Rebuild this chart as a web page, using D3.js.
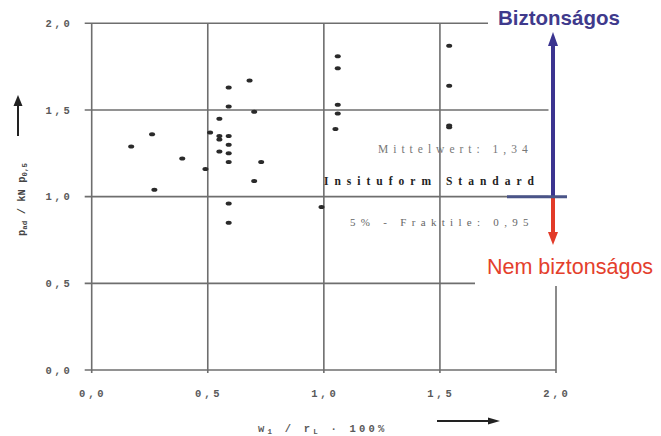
<!DOCTYPE html>
<html>
<head>
<meta charset="utf-8">
<script src="https://cdn.jsdelivr.net/npm/d3@7"></script>
<style>
  html, body { margin: 0; padding: 0; background: #fff; }
  svg { display: block; }
</style>
</head>
<body>
<svg id="chart" width="661" height="436"></svg>
<script>
// Measured ratios: relative deflection (x) vs. load ratio (y)
const deflection = [0.17, 0.26, 0.27, 0.39, 0.49, 0.51, 0.55, 0.55, 0.55, 0.55,
                    0.59, 0.59, 0.59, 0.59, 0.59, 0.59, 0.59, 0.59,
                    0.68, 0.70, 0.70, 0.73, 0.99,
                    1.06, 1.06, 1.06, 1.06, 1.05,
                    1.54, 1.54, 1.54, 1.54];
const loadRatio  = [1.29, 1.36, 1.04, 1.22, 1.16, 1.37, 1.45, 1.35, 1.33, 1.26,
                    1.63, 1.52, 1.35, 1.30, 1.25, 1.20, 0.96, 0.85,
                    1.67, 1.49, 1.09, 1.20, 0.94,
                    1.81, 1.74, 1.53, 1.48, 1.39,
                    1.87, 1.64, 1.41, 1.40];

const xTicks = [0, 0.5, 1.0, 1.5, 2.0];
const xTickLabels = ["0,0", "0,5", "1,0", "1,5", "2,0"];
const yTicks = [0, 0.5, 1.0, 1.5, 2.0];
const yTickLabels = ["0,0", "0,5", "1,0", "1,5", "2,0"];

const meanLabel = "Mittelwert: 1,34";
const standardLabel = "Insituform Standard";
const fractileLabel = "5% - Fraktile: 0,95";
const safeLabel = "Biztonságos";
const unsafeLabel = "Nem biztonságos";
const standardLevel = 1.0;

const svg = d3.select("#chart");
const x = d3.scaleLinear().domain([0, 2]).range([91.7, 556]);
const y = d3.scaleLinear().domain([0, 2]).range([370, 23.3]);

const gridColor = "#6e6e6e";
const tickFont = "'Liberation Mono', 'DejaVu Sans Mono', monospace";

// grid lines (horizontal extend slightly left of the frame, vertical slightly below);
// the right frame edge is only drawn below the "unsafe" label
svg.append("g").selectAll("line").data(yTicks).join("line")
  .attr("x1", x(0) - 7).attr("x2", x(2))
  .attr("y1", d => y(d)).attr("y2", d => y(d))
  .attr("stroke", gridColor).attr("stroke-width", 1.6);
svg.append("g").selectAll("line").data(xTicks).join("line")
  .attr("x1", d => x(d)).attr("x2", d => x(d))
  .attr("y1", d => d === 2 ? 286 : y(2)).attr("y2", y(0) + 3)
  .attr("stroke", gridColor).attr("stroke-width", 1.6);

// tick labels
svg.append("g").selectAll("text").data(yTicks).join("text")
  .attr("x", x(0) - 19).attr("y", d => y(d)).attr("dy", "0.35em")
  .attr("text-anchor", "end")
  .attr("font-family", tickFont).attr("font-size", 10.5).attr("font-weight", "bold")
  .attr("letter-spacing", 2.8).attr("fill", "#5a5a5a")
  .text((d, i) => yTickLabels[i]);
svg.append("g").selectAll("text").data(xTicks).join("text")
  .attr("x", d => x(d) + 1).attr("y", y(0) + 27)
  .attr("text-anchor", "middle")
  .attr("font-family", tickFont).attr("font-size", 10.5).attr("font-weight", "bold")
  .attr("letter-spacing", 2.8).attr("fill", "#5a5a5a")
  .text((d, i) => xTickLabels[i]);

// data points
svg.append("g").selectAll("ellipse").data(deflection).join("ellipse")
  .attr("cx", d => x(d)).attr("cy", (d, i) => y(loadRatio[i]))
  .attr("rx", 3).attr("ry", 2)
  .attr("fill", "#2a2a2a");

// statistics annotations
const serif = "'Liberation Serif', 'DejaVu Serif', serif";
svg.append("text").attr("x", 378).attr("y", 153)
  .attr("font-family", serif).attr("font-size", 11.5).attr("letter-spacing", 5)
  .attr("fill", "#777").text(meanLabel);
svg.append("text").attr("x", 324).attr("y", 185)
  .attr("font-family", serif).attr("font-size", 11.5).attr("font-weight", "bold")
  .attr("letter-spacing", 6).attr("fill", "#222").text(standardLabel);
svg.append("text").attr("x", 350).attr("y", 226)
  .attr("font-family", serif).attr("font-size", 11).attr("letter-spacing", 5.3)
  .attr("fill", "#666").text(fractileLabel);

// label backgrounds
svg.append("rect").attr("x", 488).attr("y", 0).attr("width", 173).attr("height", 31).attr("fill", "#fff");
svg.append("rect").attr("x", 475).attr("y", 247).attr("width", 186).attr("height", 39).attr("fill", "#fff");

// safe / unsafe arrows from the standard level
const ax = x(2) - 3;
const blue = "#3b3490", red = "#e23a28";
svg.append("line").attr("x1", ax).attr("x2", ax).attr("y1", y(standardLevel)).attr("y2", 40)
  .attr("stroke", "#fff").attr("stroke-width", 9);
svg.append("line").attr("x1", ax).attr("x2", ax).attr("y1", y(standardLevel)).attr("y2", 44)
  .attr("stroke", blue).attr("stroke-width", 4);
svg.append("path").attr("d", `M${ax - 5},46 L${ax},32 L${ax + 5},46 Z`).attr("fill", blue);
svg.append("line").attr("x1", ax).attr("x2", ax).attr("y1", y(standardLevel)).attr("y2", 234)
  .attr("stroke", red).attr("stroke-width", 4);
svg.append("path").attr("d", `M${ax - 5},232 L${ax},245 L${ax + 5},232 Z`).attr("fill", red);
svg.append("line").attr("x1", 507).attr("x2", 567).attr("y1", y(standardLevel)).attr("y2", y(standardLevel))
  .attr("stroke", "#4a5488").attr("stroke-width", 3);

svg.append("text").attr("x", 498).attr("y", 25)
  .attr("font-family", "'Liberation Sans', Arial, sans-serif").attr("font-size", 20.5)
  .attr("font-weight", "bold").attr("fill", "#3f3a8c").text(safeLabel);
svg.append("text").attr("x", 487).attr("y", 274)
  .attr("font-family", "'Liberation Sans', Arial, sans-serif").attr("font-size", 21.5)
  .attr("fill", "#e4402c").text(unsafeLabel);

// axis titles
const xt = svg.append("text").attr("x", 258).attr("y", 432)
  .attr("font-family", tickFont).attr("font-size", 10.5).attr("font-weight", "bold")
  .attr("letter-spacing", 3.2).attr("fill", "#5a5a5a");
xt.append("tspan").text("w");
xt.append("tspan").attr("font-size", 7.5).attr("dy", 2).text("1");
xt.append("tspan").attr("dy", -2).text(" / r");
xt.append("tspan").attr("font-size", 7.5).attr("dy", 2).text("L");
xt.append("tspan").attr("dy", -2).text(" · 100%");

const yt = svg.append("text").attr("transform", "translate(25,236) rotate(-90)")
  .attr("font-family", tickFont).attr("font-size", 10.5).attr("font-weight", "bold")
  .attr("fill", "#444");
yt.append("tspan").text("p");
yt.append("tspan").attr("font-size", 7.5).attr("dy", 2).text("ad");
yt.append("tspan").attr("dy", -2).text(" / kN p");
yt.append("tspan").attr("font-size", 7.5).attr("dy", 2).text("0,5");

// direction arrows next to the axis titles
svg.append("line").attr("x1", 18).attr("x2", 18).attr("y1", 136).attr("y2", 104)
  .attr("stroke", "#222").attr("stroke-width", 2);
svg.append("path").attr("d", "M13.5,106 L18,95 L22.5,106 Z").attr("fill", "#222");
svg.append("line").attr("x1", 437).attr("x2", 490).attr("y1", 421).attr("y2", 421)
  .attr("stroke", "#222").attr("stroke-width", 2);
svg.append("path").attr("d", "M488,417.5 L500,421 L488,424.5 Z").attr("fill", "#222");
</script>
</body>
</html>
